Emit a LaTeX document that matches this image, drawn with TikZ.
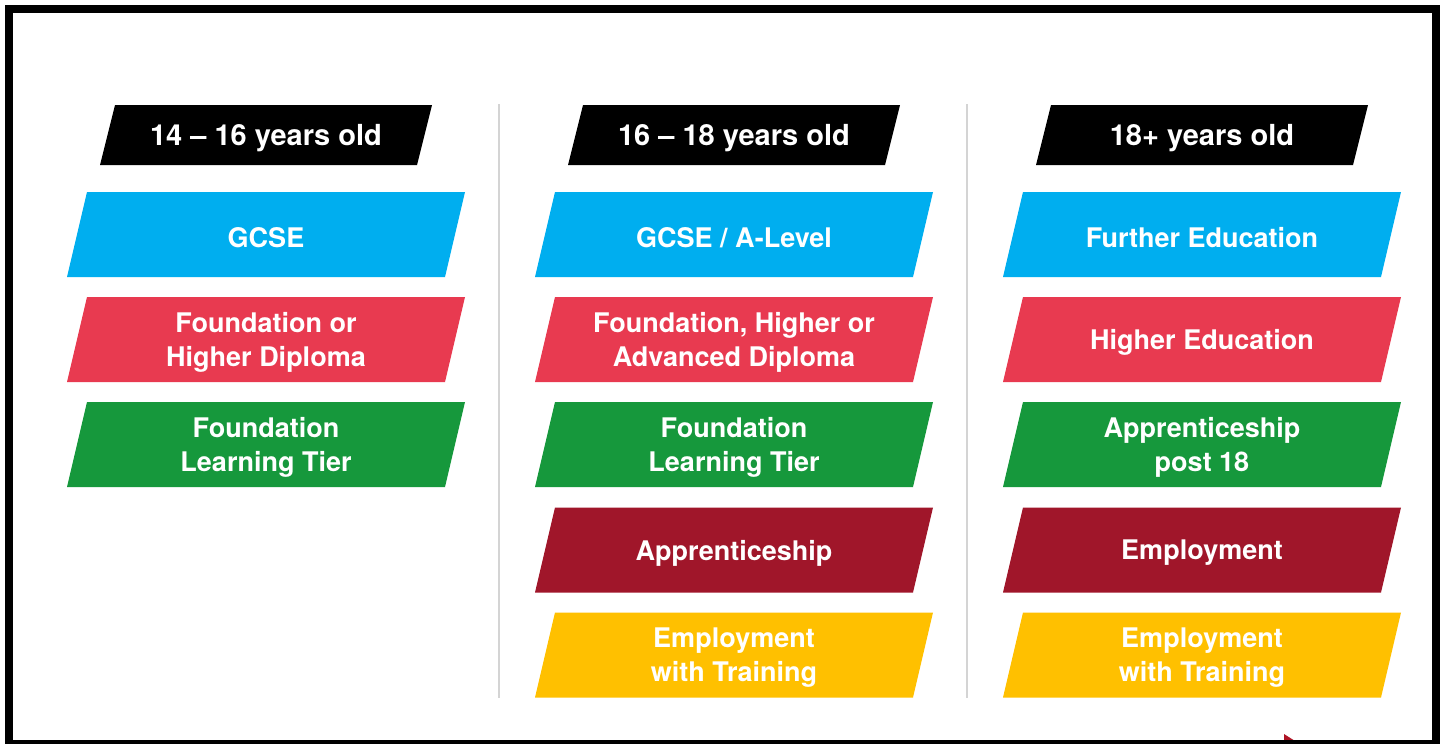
\documentclass[tikz,border=0pt]{standalone}
\usepackage{fontspec}
\setmainfont{TeX Gyre Heros}
\usetikzlibrary{calc}

\definecolor{bandblue}{RGB}{0,174,239}
\definecolor{bandred}{RGB}{232,58,80}
\definecolor{bandgreen}{RGB}{22,152,60}
\definecolor{bandwine}{RGB}{160,22,42}
\definecolor{bandyellow}{RGB}{255,192,0}
\definecolor{rulegray}{RGB}{212,212,212}

\tikzset{
  bandtext/.style={text=white, font=\fontsize{27}{34}\selectfont\bfseries,
    align=center, inner sep=0pt, yshift=-3pt},
  headtext/.style={text=white, font=\fontsize{29}{34}\selectfont\bfseries,
    inner sep=0pt, yshift=-3pt},
  colrule/.style={draw=rulegray, line width=2.5pt},
  frame/.style={draw=black, line width=8pt},
}

% slanted coloured band with centred label: name, centre, colour, text
\newcommand\slab[4]{%
  \fill[#3] ($(#2)+(-199,42.5)$) -- ++(20,-85) -- ++(378,0) -- ++(-20,85) -- cycle;
  \node[bandtext] (#1) at (#2) {#4};
}
% black slanted column header: name, centre, text
\newcommand\colhead[3]{%
  \fill[black] ($(#2)+(-166,30)$) -- ++(15,-60) -- ++(317,0) -- ++(-15,60) -- cycle;
  \node[headtext] (#1) at (#2) {#3};
}

\begin{document}
\begin{tikzpicture}[x=1pt, y=-1pt]
  \useasboundingbox (0,0) rectangle (1444,744);
  \fill[white] (0,0) rectangle (1444,744);

  % column separators
  \coordinate (sepAtop) at (499,104);
  \coordinate (sepAbot) at (499,698);
  \coordinate (sepBtop) at (967,104);
  \coordinate (sepBbot) at (967,698);
  \draw[colrule] (sepAtop) -- (sepAbot);
  \draw[colrule] (sepBtop) -- (sepBbot);

  % 14 -- 16 years old
  \colhead{h1}{266,135}{14 – 16 years old}
  \slab{a1}{266,234.5}{bandblue}{GCSE}
  \slab{a2}{266,339.5}{bandred}{Foundation or\\Higher Diploma}
  \slab{a3}{266,444.5}{bandgreen}{Foundation\\Learning Tier}

  % 16 -- 18 years old
  \colhead{h2}{734,135}{16 – 18 years old}
  \slab{b1}{734,234.5}{bandblue}{GCSE / A-Level}
  \slab{b2}{734,339.5}{bandred}{Foundation, Higher or\\Advanced Diploma}
  \slab{b3}{734,444.5}{bandgreen}{Foundation\\Learning Tier}
  \slab{b4}{734,550}{bandwine}{Apprenticeship}
  \slab{b5}{734,655}{bandyellow}{Employment\\with Training}

  % 18+ years old
  \colhead{h3}{1202,135}{18+ years old}
  \slab{c1}{1202,234.5}{bandblue}{Further Education}
  \slab{c2}{1202,339.5}{bandred}{Higher Education}
  \slab{c3}{1202,444.5}{bandgreen}{Apprenticeship\\post 18}
  \slab{c4}{1202,550}{bandwine}{Employment}
  \slab{c5}{1202,655}{bandyellow}{Employment\\with Training}

  % small red tip at the lower edge
  \fill[bandwine!85!red] (1284,734) -- (1295,741) -- (1284,741) -- cycle;

  % outer frame
  \draw[frame] (9,9) rectangle (1436,744);
\end{tikzpicture}
\end{document}
